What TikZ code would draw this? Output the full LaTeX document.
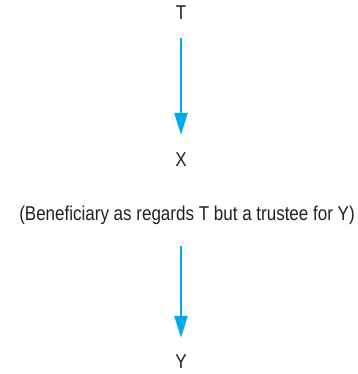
\documentclass[tikz,border=0pt]{standalone}
\usepackage{fontspec}
\setmainfont[FakeStretch=0.85]{Liberation Sans}
\usetikzlibrary{arrows.meta}
\definecolor{arrowblue}{RGB}{0,172,236}
\definecolor{inkgray}{RGB}{35,31,32}

\begin{document}
\begin{tikzpicture}[x=1pt,y=-1pt,
                -{Triangle[length=22pt,width=13pt]},line width=2.4pt,
                main node/.style={text=inkgray,font=\fontsize{20}{24}\selectfont,inner sep=0pt}]
	\useasboundingbox (0,0) rectangle (357,374);
	\node[main node] (t) at (181,13) {T};
	\node[main node] (x) at (181,160) {X};
	\node[main node] (note) at (187,215) {(Beneficiary as regards T but a trustee for Y)};
	\node[main node] (y) at (181,362) {Y};
	\coordinate (n) at (note.south -| y);

	\path[color=arrowblue]
	(t) edge [shorten <=17pt,shorten >=17pt] (x)
	(n) edge [shorten <=20pt,shorten >=16pt] (y)
;
\end{tikzpicture}
\end{document}
